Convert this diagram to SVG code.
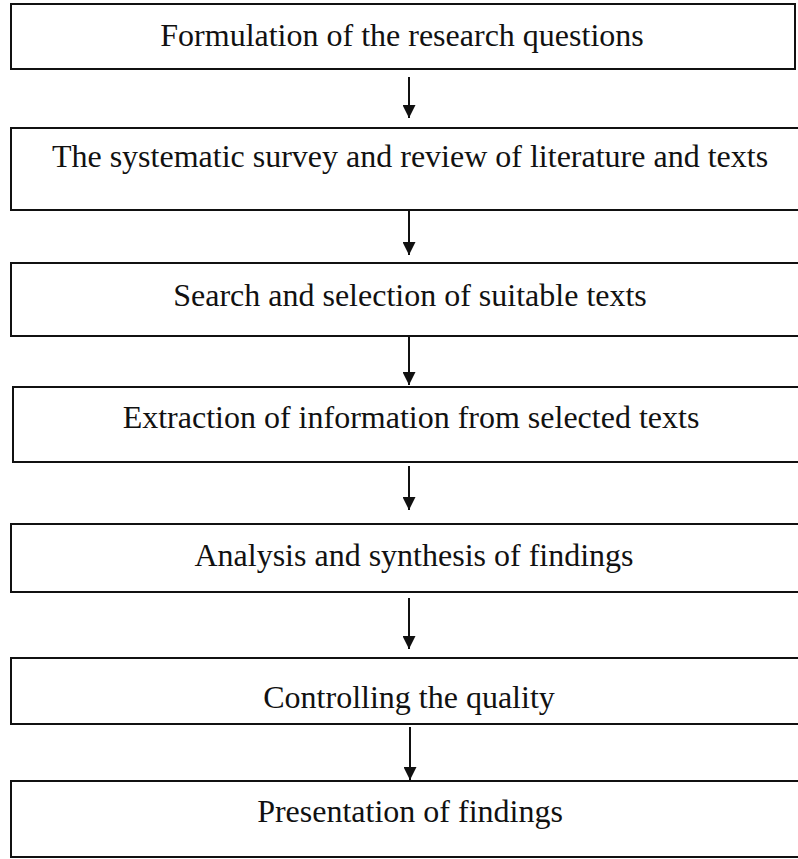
<svg xmlns="http://www.w3.org/2000/svg" width="798" height="859" viewBox="0 0 798 859">
<style>
.box{fill:#fff;stroke:#111;stroke-width:2}
.lbl{font-family:"Liberation Serif","Times New Roman",serif;font-size:32px;fill:#111;text-anchor:middle}
.arr{stroke:#111;stroke-width:2;fill:none;marker-end:url(#ah)}
</style>
<defs>
<marker id="ah" viewBox="0 0 10 10" refX="10" refY="5" markerWidth="14" markerHeight="13" markerUnits="userSpaceOnUse" orient="auto">
<path d="M0,0 L10,5 L0,10 Z" fill="#111"/>
</marker>
</defs>
<rect width="798" height="859" fill="#fff"/>
<g id="n1"><rect class="box" x="11" y="4" width="784" height="65"/><text class="lbl" x="402" y="46">Formulation of the research questions</text></g>
<g id="n2"><rect class="box" x="11" y="128" width="800" height="82"/><text class="lbl" x="410" y="167">The systematic survey and review of literature and texts</text></g>
<g id="n3"><rect class="box" x="11" y="263" width="800" height="73"/><text class="lbl" x="410" y="306">Search and selection of suitable texts</text></g>
<g id="n4"><rect class="box" x="13" y="387" width="800" height="75"/><text class="lbl" x="411" y="428">Extraction of information from selected texts</text></g>
<g id="n5"><rect class="box" x="11" y="524" width="800" height="68"/><text class="lbl" x="414" y="566">Analysis and synthesis of findings</text></g>
<g id="n6"><rect class="box" x="11" y="658" width="800" height="66"/><text class="lbl" x="409" y="708">Controlling the quality</text></g>
<g id="n7"><rect class="box" x="11" y="781" width="800" height="76"/><text class="lbl" x="410" y="822">Presentation of findings</text></g>
<g id="edges">
<line class="arr" x1="409" y1="77" x2="409" y2="118"/>
<line class="arr" x1="409" y1="210" x2="409" y2="255"/>
<line class="arr" x1="409" y1="337" x2="409" y2="385"/>
<line class="arr" x1="409" y1="466" x2="409" y2="510"/>
<line class="arr" x1="409" y1="598" x2="409" y2="649"/>
<line class="arr" x1="410" y1="727" x2="410" y2="780"/>
</g>
</svg>
